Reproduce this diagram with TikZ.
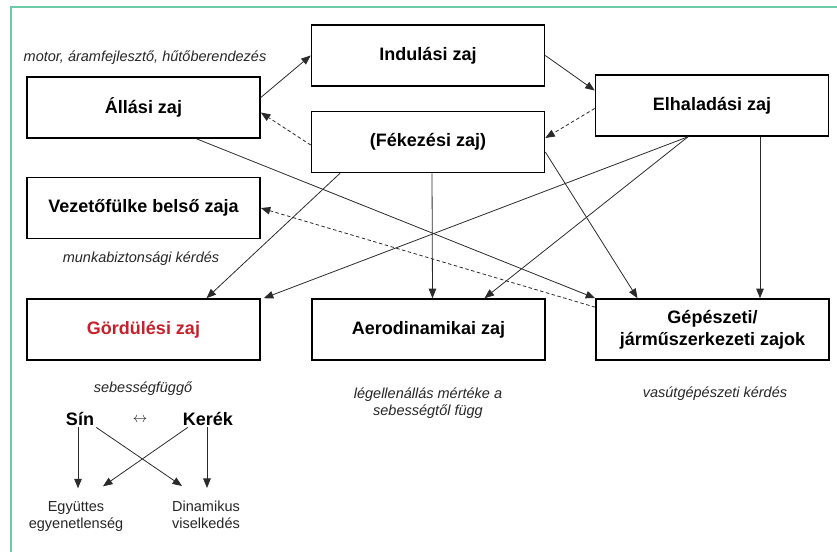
\documentclass[tikz,border=0pt]{standalone}
\usepackage{fontspec}
\setmainfont{Liberation Sans}
\usepackage{xcolor}
\usetikzlibrary{positioning,arrows.meta}
\definecolor{keret}{HTML}{6CCBA5}
\definecolor{piros}{HTML}{C8202A}
\definecolor{vonal}{HTML}{2B2B2B}
\newcommand{\nagy}{\fontsize{18}{22}\selectfont\bfseries}
\newcommand{\kicsi}{\fontsize{14.5}{17}\selectfont}
\tikzset{
  doboz/.style={draw,line width=1.6pt,minimum width=233pt,minimum height=61pt,
    inner sep=0pt,font=\nagy,align=center},
  megj/.style={font=\kicsi\itshape,text=black!85,align=center,inner sep=0pt},
  szoveg/.style={font=\kicsi,text=black!85,align=center,inner sep=0pt},
  nyil/.style={draw=vonal,line width=0.8pt,-{Triangle[length=9.5pt,width=7.5pt]}},
  szagg/.style={nyil,dash pattern=on 3.5pt off 2.5pt},
}

\begin{document}
\begin{tikzpicture}[x=1pt,y=-1pt]
  \useasboundingbox (0,0) rectangle (837,552);
  \draw[keret,line width=2pt] (11,552) -- (11,7) -- (837,7);

  \node(allas) [doboz] at (143.5,107.5) {Állási zaj};
  \node(vezeto) [doboz] at (143.5,208) {Vezetőfülke belső zaja};
  \node(indul) [doboz] at (428,55.5) {Indulási zaj};
  \node(fek) [doboz] at (428,142) {(Fékezési zaj)};
  \node(elhal) [doboz] at (712,105.5) {Elhaladási zaj};
  \node(gord) [doboz,text=piros] at (143.5,329.5) {Gördülési zaj};
  \node(aero) [doboz] at (428.5,329.5) {Aerodinamikai zaj};
  \node(gep) [doboz] at (712.5,329.5) {Gépészeti/\\járműszerkezeti zajok};

  \node(m1) [megj,anchor=base] at (145,61) {motor, áramfejlesztő, hűtőberendezés};
  \node(m2) [megj,anchor=base] at (141,262) {munkabiztonsági kérdés};
  \node(m3) [megj,anchor=base] at (143,392) {sebességfüggő};
  \node(m4) [megj] at (428,403) {légellenállás mértéke a\\sebességtől függ};
  \node(m5) [megj,anchor=base] at (715,397) {vasútgépészeti kérdés};

  \node(sin) [font=\nagy,anchor=base,inner sep=2pt] at (80,425) {Sín};
  \node(kerek) [font=\nagy,anchor=base,inner sep=2pt] at (208,425) {Kerék};
  \node(kozt) [szoveg] at (140,420) {$\leftrightarrow$};
  \node(egy) [szoveg] at (76,516.5) {Együttes\\egyenetlenség};
  \node(din) [szoveg] at (206,515) {Dinamikus\\viselkedés};

  \coordinate (elhal-s) at ([xshift=-24pt]elhal.south);

  \draw[nyil] ([yshift=10pt]allas.east) -- (indul.west);
  \draw[nyil] (indul.east) -- ([yshift=15pt]elhal.west);
  \draw[szagg] ([yshift=-3pt]elhal.west) -- ([yshift=4pt]fek.east);
  \draw[szagg] ([yshift=-3pt]fek.west) -- ([yshift=-5pt]allas.east);
  \draw[nyil] ([xshift=53pt]allas.south) -- (gep.north west);
  \draw[szagg] ([yshift=-9pt]gep.north west) -- (vezeto.east);
  \draw[nyil] ([xshift=-88pt]fek.south) -- ([xshift=63pt]gord.north);
  \draw[nyil] ([xshift=4pt]fek.south) -- ([xshift=4pt]aero.north);
  \draw[nyil] ([yshift=-10pt]fek.east) -- ([xshift=-75pt]gep.north);
  \draw[nyil] (elhal-s) -- ([xshift=3pt]gord.north east);
  \draw[nyil] (elhal-s) -- ([xshift=56pt]aero.north);
  \draw[nyil] ([xshift=48pt]elhal.south) -- ([xshift=47.5pt]gep.north);

  \draw[nyil,shorten >=13pt] ([xshift=-2pt]sin.south) -- ([xshift=-2pt]sin.south |- egy.north);
  \draw[nyil] (sin.south east) -- ([xshift=-24pt,yshift=15pt]din.north);
  \draw[nyil] ([xshift=7pt]kerek.south west) -- ([xshift=27pt,yshift=15pt]egy.north);
  \draw[nyil,shorten >=13pt] ([xshift=-1pt]kerek.south) -- ([xshift=-1pt]kerek.south |- din.north);
\end{tikzpicture}
\end{document}
